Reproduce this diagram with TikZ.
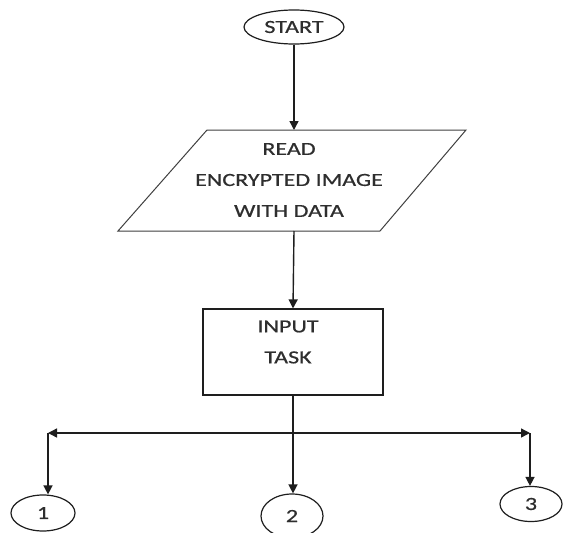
\documentclass[tikz,border=0pt]{standalone}
\usepackage{fontspec}
\setmainfont{Carlito}[FakeStretch=1.3,FakeBold=0.6]
\usetikzlibrary{arrows.meta,shapes.geometric}
\definecolor{txtc}{HTML}{2E2E2E}
\definecolor{linec}{HTML}{1E1E1E}
\begin{document}
\begin{tikzpicture}[x=1pt,y=-1pt,
  every node/.style={font=\fontsize{18.5}{31}\selectfont, text=txtc},
  line/.style={draw=linec, line width=1.4pt},
  arr/.style={line, -{Triangle[length=9pt,width=9pt]}},
  darr/.style={line, {Triangle[length=9pt,width=9pt]}-{Triangle[length=9pt,width=9pt]}},
  term/.style={ellipse, draw=linec, line width=1.2pt, inner sep=0pt},
  taskbox/.style={rectangle, draw=linec, line width=1.2pt, minimum width=180pt, minimum height=86pt, inner sep=0pt},
  txt/.style={align=center, inner sep=0pt}
]
\useasboundingbox (0,0) rectangle (563,533);
\fill[white] (0,0) rectangle (563,533);

% START
\node[term, minimum width=100pt, minimum height=34pt] (start) at (294,27) {START};

% parallelogram
\coordinate (p1) at (207,130);
\coordinate (p2) at (466,130);
\coordinate (p3) at (380,231);
\coordinate (p4) at (118,231);
\draw[draw=linec!85, line width=1pt] (p1) -- (p2) -- (p3) -- (p4) -- cycle;
\coordinate (readtop) at (294,130);
\coordinate (readbot) at (294,231);
\node[txt] (read) at (289,180) {READ\\ENCRYPTED IMAGE\\WITH DATA};

% task box
\node[taskbox] (task) at (293,352) {};
\node[txt] (tasktxt) at (288,342) {INPUT\\TASK};

% branch
\coordinate (lc) at (48,433);
\coordinate (rc) at (530,433);

% terminals
\node[term, minimum width=64pt, minimum height=36pt] (c1) at (43,513) {1};
\node[term, minimum width=62pt, minimum height=44pt] (c2) at (292,516) {2};
\node[term, minimum width=62pt, minimum height=35pt] (c3) at (531,504) {3};

% connectors
\draw[arr] (start.south) -- (readtop);
\draw[arr] (readbot) -- (task.north);
\draw[darr] (lc) -- (rc);
\draw[arr] (task.south) -- (c2.north -| task.south);
\draw[arr] (lc) -- (lc |- c1.north);
\draw[arr] (rc) -- (rc |- c3.north);
\end{tikzpicture}
\end{document}
